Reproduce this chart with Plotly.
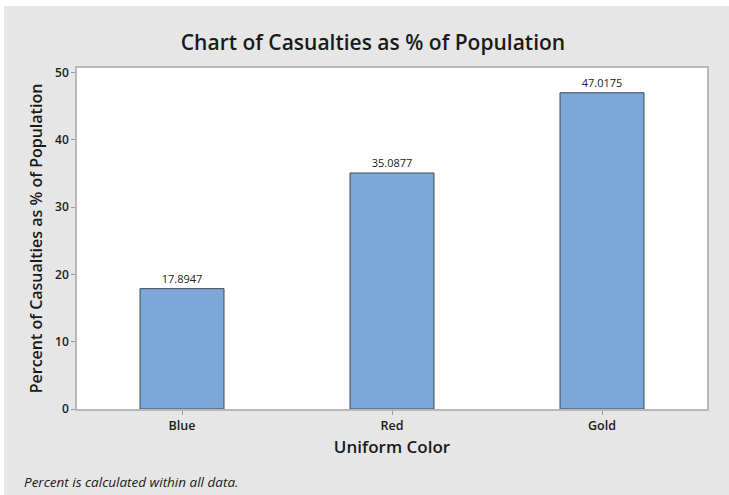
import plotly.graph_objects as go

categories = ["Blue", "Red", "Gold"]
values = [17.8947, 35.0877, 47.0175]
y_ticks = [0, 10, 20, 30, 40, 50]

W, H = 729, 495
L, R, T, B = 77, 22, 68, 86
pw, ph = W - L - R, H - T - B

fig = go.Figure(go.Bar(
    x=categories, y=values, width=0.4,
    marker=dict(color="#7BA7D9", line=dict(color="#3f4a57", width=1)),
    text=[f"{v:.4f}" for v in values], textposition="outside",
    textfont=dict(family="Open Sans", size=11, color="#222"),
    cliponaxis=False,
))

axis_common = dict(showline=True, mirror=True, linecolor="#b8b8b8", linewidth=1.5,
                   ticks="outside", ticklen=4, tickcolor="#9a9a9a", showgrid=False, zeroline=False)

fig.update_layout(
    width=W, height=H,
    margin=dict(l=L, r=R, t=T, b=B),
    paper_bgcolor="#e6e6e6", plot_bgcolor="white",
    showlegend=False,
    title=dict(text="Chart of Casualties as % of Population", x=(373) / W, xanchor="center",
               y=1 - 43 / H, yanchor="middle",
               font=dict(family="Open Sans", size=21, color="#1a1a1a", weight=600)),
    xaxis=dict(range=[-0.5, 2.5], **axis_common,
               tickfont=dict(family="Open Sans", size=12.5, color="#1a1a1a", weight=600),
               title=dict(text="Uniform Color", standoff=8,
                          font=dict(family="Open Sans", size=17, color="#1a1a1a", weight=600))),
    yaxis=dict(range=[0, 50.7], tickvals=y_ticks, **axis_common,
               tickfont=dict(family="Open Sans", size=12, color="#1a1a1a", weight=600),
               title=dict(text="Percent of Casualties as % of Population", standoff=9,
                          font=dict(family="Open Sans", size=16, color="#1a1a1a", weight=600))),
    annotations=[dict(text="<i>Percent is calculated within all data.</i>", xref="paper", yref="paper",
                      x=(22 - L) / pw, y=(H - 482 - B) / ph, xanchor="left", yanchor="middle",
                      showarrow=False, font=dict(family="Open Sans", size=13.5, color="#1a1a1a"))],
    shapes=[
        dict(type="rect", xref="paper", yref="paper", x0=-L / pw, x1=(W - L) / pw,
             y0=(H - 6 - B) / ph, y1=(H - B) / ph, fillcolor="white", line=dict(width=0), layer="above"),
        dict(type="rect", xref="paper", yref="paper", x0=-L / pw, x1=(4 - L) / pw,
             y0=-B / ph, y1=(H - B) / ph, fillcolor="white", line=dict(width=0), layer="above"),
    ],
)

fig.write_html("out.html")
